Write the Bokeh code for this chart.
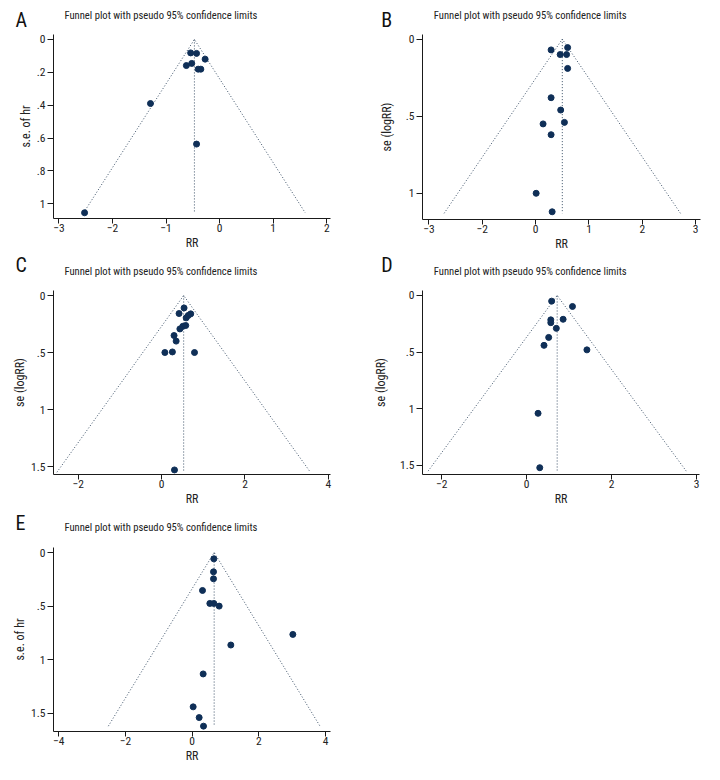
from bokeh.plotting import figure
from bokeh.layouts import column, row
from bokeh.models import Range1d, FixedTicker
from bokeh.core.properties import value
from bokeh.embed import file_html
from bokeh.resources import INLINE

# ---------------- data ----------------
title_text = "Funnel plot with pseudo 95% confidence limits"
letters = ["A", "B", "C", "D", "E"]
y_titles = ["s.e. of hr", "se (logRR)", "se (logRR)", "se (logRR)", "s.e. of hr"]
x_title = "RR"

a_rr = [-0.54, -0.43, -0.27, -0.62, -0.52, -0.40, -0.35, -1.29, -0.43, -2.52]
a_se = [0.082, 0.085, 0.12, 0.159, 0.146, 0.181, 0.181, 0.39, 0.637, 1.055]

b_rr = [0.29, 0.60, 0.46, 0.58, 0.60, 0.29, 0.47, 0.54, 0.14, 0.29, 0.01, 0.31]
b_se = [0.07, 0.055, 0.10, 0.10, 0.19, 0.38, 0.46, 0.54, 0.55, 0.62, 1.00, 1.12]

c_rr = [0.54, 0.42, 0.70, 0.64, 0.59, 0.51, 0.58, 0.44, 0.30, 0.35, 0.08, 0.26, 0.79, 0.31]
c_se = [0.109, 0.158, 0.161, 0.175, 0.196, 0.27, 0.263, 0.293, 0.351, 0.40, 0.50, 0.495, 0.50, 1.53]

d_rr = [0.59, 1.08, 0.86, 0.57, 0.57, 0.70, 0.52, 0.41, 1.42, 0.27, 0.31]
d_se = [0.05, 0.097, 0.21, 0.215, 0.24, 0.29, 0.37, 0.44, 0.48, 1.04, 1.52]

e_rr = [0.65, 0.64, 0.64, 0.31, 0.53, 0.65, 0.81, 3.02, 1.16, 0.33, 0.03, 0.21, 0.34]
e_se = [0.059, 0.18, 0.245, 0.354, 0.475, 0.475, 0.50, 0.764, 0.863, 1.133, 1.44, 1.54, 1.62]

pooled = [-0.47, 0.50, 0.53, 0.72, 0.66]
se_max = [1.055, 1.13, 1.55, 1.55, 1.62]

a_xticks = [-3, -2, -1, 0, 1, 2]
a_xlabels = ["\u22123", "\u22122", "\u22121", "0", "1", "2"]
a_yticks = [0, 0.2, 0.4, 0.6, 0.8, 1]
a_ylabels = ["0", ".2", ".4", ".6", ".8", "1"]

b_xticks = [-2, -1, 0, 1, 2, 3]
b_xlabels = ["\u22123", "\u22122", "0", "1", "2", "3"]
b_yticks = [0, 0.5, 1]
b_ylabels = ["0", ".5", "1"]

c_xticks = [-2, 0, 2, 4]
c_xlabels = ["\u22122", "0", "2", "4"]
c_yticks = [0, 0.5, 1, 1.5]
c_ylabels = ["0", ".5", "1", "1.5"]

d_xticks = [-2, 0, 2, 4]
d_xlabels = ["\u22122", "0", "2", "3"]
d_yticks = [0, 0.5, 1, 1.5]
d_ylabels = ["0", ".5", "1", "1.5"]

e_xticks = [-4, -2, 0, 2, 4]
e_xlabels = ["\u22124", "\u22122", "0", "2", "4"]
e_yticks = [0, 0.5, 1, 1.5]
e_ylabels = ["0", ".5", "1", "1.5"]

# ---------------- styling / layout ----------------
FONT = "Roboto Condensed"
DOT = "#0f2f57"
FUNNEL = "#3a4f66"
AXIS = "#1a1a1a"

layout_cfg = [
    dict(xr=(-3.10, 2.07), yr=(1.09, -0.03), bl=53, br=22, bt=2, bb=34, fw=277, fh=184, yls=1, xls=1),
    dict(xr=(-2.12, 3.09), yr=(1.17, -0.03), bl=70, br=4, bt=2, bb=33, fw=278, fh=185, yls=9, xls=1),
    dict(xr=(-2.59, 4.05), yr=(1.57, -0.044), bl=53, br=22, bt=4, bb=37, fw=277, fh=184, yls=1, xls=1),
    dict(xr=(-2.45, 4.07), yr=(1.58, -0.044), bl=70, br=5, bt=4, bb=37, fw=277, fh=184, yls=9, xls=1),
    dict(xr=(-4.16, 4.15), yr=(1.67, -0.047), bl=53, br=22, bt=9, bb=34, fw=277, fh=184, yls=1, xls=1),
]

# header strips: height; (panel, x, y) for the letter and for the title text
header_cfg = [
    dict(h=32, letters=[(0, 15, 13.0), (1, 380.7, 13.0)], titles=[(0, 64, 17.5), (1, 433.3, 17.5)]),
    dict(h=33, letters=[(2, 15, 21.6), (3, 380.7, 21.6)], titles=[(2, 64, 15.5), (3, 433.3, 15.5)]),
    dict(h=27, letters=[(4, 15, 15.3)], titles=[(4, 64, 11.1)]),
]

series = [(a_rr, a_se), (b_rr, b_se), (c_rr, c_se), (d_rr, d_se), (e_rr, e_se)]
xticks = [(a_xticks, a_xlabels), (b_xticks, b_xlabels), (c_xticks, c_xlabels), (d_xticks, d_xlabels), (e_xticks, e_xlabels)]
yticks = [(a_yticks, a_ylabels), (b_yticks, b_ylabels), (c_yticks, c_ylabels), (d_yticks, d_ylabels), (e_yticks, e_ylabels)]


def make_header(cfg):
    h = cfg["h"]
    p = figure(width=704, height=h, x_range=Range1d(0, 704), y_range=Range1d(0, h),
               x_axis_type=None, y_axis_type=None, output_backend="svg",
               toolbar_location=None, min_border=0)
    p.outline_line_color = None
    p.grid.visible = False
    for i, x, y in cfg["letters"]:
        p.text(x=[x], y=[y], text=[letters[i]], text_font=value(FONT),
               text_font_size="20px", text_color="#111111", text_baseline="alphabetic")
    for i, x, y in cfg["titles"]:
        p.text(x=[x], y=[y], text=[title_text], text_font=value(FONT),
               text_font_size="10.6px", text_color="#222222", text_baseline="alphabetic")
    return p


def make_panel(i):
    cfg = layout_cfg[i]
    rr, se = series[i]
    p = figure(frame_width=cfg["fw"], frame_height=cfg["fh"],
               x_range=Range1d(*cfg["xr"]), y_range=Range1d(*cfg["yr"]),
               output_backend="svg", toolbar_location=None,
               min_border_left=cfg["bl"], min_border_right=cfg["br"],
               min_border_top=cfg["bt"], min_border_bottom=cfg["bb"])
    p.outline_line_color = None
    p.grid.visible = False

    c, m = pooled[i], se_max[i]
    p.line([c - 1.96 * m, c, c + 1.96 * m], [m, 0, m], line_color=FUNNEL,
           line_width=1, line_dash="1 2")
    p.line([c, c], [0, m], line_color=FUNNEL, line_width=1, line_dash="1 2")
    p.scatter(rr, se, size=6, fill_color=DOT, line_color=DOT)

    xt, xl = xticks[i]
    yt, yl = yticks[i]
    p.xaxis.ticker = FixedTicker(ticks=xt)
    p.xaxis.major_label_overrides = {t: l for t, l in zip(xt, xl)}
    p.yaxis.ticker = FixedTicker(ticks=yt)
    p.yaxis.major_label_overrides = {t: l for t, l in zip(yt, yl)}

    for ax in (p.xaxis[0], p.yaxis[0]):
        ax.axis_line_color = AXIS
        ax.major_tick_line_color = AXIS
        ax.minor_tick_line_color = None
        ax.major_tick_in = 0
        ax.major_label_text_font = FONT
        ax.major_label_text_font_size = "11.5px"
        ax.major_label_text_color = "#222222"
        ax.axis_label_text_font = FONT
        ax.axis_label_text_font_size = "12px"
        ax.axis_label_text_font_style = "normal"
        ax.axis_label_text_color = "#222222"
    p.xaxis.major_tick_out = 5
    p.yaxis.major_tick_out = 6
    p.xaxis.axis_label = x_title
    p.yaxis.axis_label = y_titles[i]
    p.xaxis.major_label_standoff = 0
    p.yaxis.major_label_standoff = 2
    p.xaxis.axis_label_standoff = cfg["xls"]
    p.yaxis.axis_label_standoff = cfg["yls"]
    return p


panels = [make_panel(i) for i in range(5)]
headers = [make_header(h) for h in header_cfg]
layout = column(headers[0], row(panels[0], panels[1]),
                headers[1], row(panels[2], panels[3]),
                headers[2], row(panels[4]))

open("out.html", "w").write(file_html(layout, INLINE))
